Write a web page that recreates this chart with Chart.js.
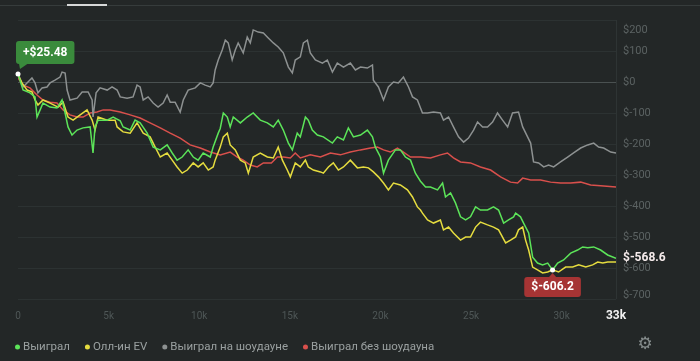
<!DOCTYPE html>
<html>
<head>
<meta charset="utf-8">
<script src="https://cdn.jsdelivr.net/npm/chart.js@4"></script>
<style>
  html, body { margin: 0; padding: 0; background: #232727; }
  canvas { display: block; }
</style>
</head>
<body>
<canvas id="graph" width="700" height="361"></canvas>
<script>
/**
 * Data
 */
const seriesNames = ['Выиграл', 'Олл-ин EV', 'Выиграл на шоудауне', 'Выиграл без шоудауна']

const greenHands  = [0, 280, 660, 940, 1050, 1220, 1380, 1770, 2150, 2430, 2600, 2760, 2980, 3260, 3590, 3980, 4140, 4250, 4420, 4920, 5250, 5640, 5800, 6190, 6460, 6740, 7130, 7460, 7850, 8230, 8510, 8780, 9060, 9390, 9670, 9940, 10220, 10610, 10770, 11050, 11160, 11330, 11550, 11710, 11880, 12270, 12650, 12980, 13370, 13760, 14090, 14360, 14640, 14920, 15140, 15410, 15580, 15860, 16020, 16240, 16520, 16850, 17350, 17620, 17960, 18230, 18510, 18900, 19280, 19560, 19720, 20000, 20170, 20440, 20830, 21100, 21380, 21660, 21930, 22210, 22490, 22760, 23150, 23430, 23590, 23870, 24140, 24420, 24700, 24970, 25250, 25520, 25910, 26240, 26520, 26800, 27070, 27350, 27460, 27730, 27900, 28180, 28400, 28670, 28950, 29230, 29500, 29780, 30110, 30500, 30880, 31160, 31440, 31770, 32150, 32540, 33000]
const greenValues = [25.48, -26, -35, -48, -113, -90, -68, -81, -84, -58, -100, -145, -171, -155, -148, -145, -229, -145, -123, -123, -113, -125, -145, -155, -123, -132, -165, -210, -219, -203, -229, -252, -242, -219, -242, -252, -229, -242, -210, -165, -150, -100, -113, -145, -113, -132, -113, -100, -123, -132, -145, -123, -155, -197, -219, -165, -177, -113, -123, -155, -171, -177, -197, -177, -187, -148, -177, -171, -155, -177, -210, -242, -294, -252, -219, -219, -242, -252, -294, -320, -339, -339, -348, -326, -371, -358, -390, -435, -445, -435, -403, -413, -413, -403, -413, -455, -445, -435, -423, -435, -455, -487, -565, -584, -590, -584, -606.2, -584, -574, -552, -542, -532, -535, -532, -542, -558, -568.6]

const yellowHands  = [0, 220, 500, 770, 940, 1100, 1380, 1770, 2210, 2490, 2760, 3040, 3430, 3810, 4090, 4250, 4420, 4920, 5360, 5470, 5800, 6190, 6570, 6910, 7290, 7570, 7850, 8230, 8510, 8780, 9060, 9340, 9670, 9940, 10220, 10500, 10770, 10880, 11160, 11330, 11550, 11710, 11990, 12270, 12540, 12710, 12980, 13370, 13760, 14090, 14360, 14590, 14860, 15030, 15300, 15580, 15860, 16020, 16300, 16690, 16850, 17130, 17400, 17680, 17960, 18340, 18730, 19060, 19340, 19610, 19890, 20170, 20440, 20720, 21100, 21490, 21770, 22040, 22210, 22320, 22600, 22930, 23310, 23480, 23760, 24030, 24420, 24700, 24970, 25250, 25520, 25910, 26240, 26520, 26910, 27180, 27460, 27620, 27850, 28010, 28180, 28400, 28670, 28950, 29230, 29500, 29830, 30220, 30610, 30940, 31330, 31710, 31990, 32270, 32540, 33000]
const yellowValues = [23, -3, -26, -32, -58, -74, -58, -68, -81, -65, -113, -123, -106, -90, -123, -155, -113, -123, -123, -145, -161, -165, -132, -165, -177, -210, -242, -229, -252, -274, -294, -284, -261, -274, -261, -284, -274, -252, -210, -177, -165, -203, -219, -252, -261, -294, -242, -229, -242, -245, -210, -252, -284, -306, -261, -274, -252, -274, -284, -290, -294, -274, -261, -284, -274, -252, -277, -274, -277, -290, -306, -326, -348, -326, -332, -348, -371, -403, -413, -423, -445, -455, -445, -477, -468, -487, -510, -500, -500, -468, -452, -461, -468, -477, -519, -510, -500, -477, -468, -510, -542, -597, -606, -616, -613, -606, -613, -597, -597, -590, -597, -590, -581, -584, -581, -581]

const grayHands  = [0, 280, 550, 770, 940, 1100, 1330, 1600, 1770, 2040, 2320, 2430, 2600, 2710, 2870, 3260, 3540, 3870, 4090, 4140, 4310, 4530, 4920, 5190, 5470, 5640, 6020, 6350, 6570, 6740, 6910, 7180, 7460, 7730, 8010, 8230, 8400, 8670, 8950, 9120, 9390, 9780, 10060, 10330, 10610, 10770, 10880, 11050, 11270, 11440, 11600, 11820, 11990, 12150, 12430, 12650, 12820, 12980, 13260, 13540, 13810, 14090, 14360, 14640, 14920, 15140, 15300, 15580, 15750, 15970, 16130, 16410, 16800, 17070, 17350, 17620, 17960, 18340, 18620, 18900, 19280, 19560, 19610, 19890, 20170, 20440, 20720, 20990, 21270, 21550, 21770, 22040, 22320, 22600, 22930, 23310, 23480, 23760, 24030, 24310, 24590, 24860, 25140, 25360, 25640, 25910, 26190, 26460, 26740, 27020, 27290, 27620, 27850, 28120, 28290, 28450, 28730, 29010, 29280, 29560, 29940, 30330, 30660, 31050, 31440, 31770, 32040, 32320, 32710, 33000]
const grayValues = [29, -16, 0, 13, -3, -35, -19, -16, -3, 6, 16, 32, 29, -26, -58, -52, -32, -32, -58, -113, -35, -19, -26, -16, -26, -48, -52, -48, -10, -16, -58, -48, -68, -81, -68, -42, -65, -65, -97, -58, -26, -19, -3, -10, -16, -3, 39, 71, 103, 135, 126, 71, 103, 126, 94, 145, 126, 168, 161, 158, 142, 126, 113, 94, 48, 29, 71, 81, 126, 135, 94, 71, 61, 71, 32, 61, 48, 61, 39, 48, 45, 55, 6, -16, -58, -16, 0, -3, 16, -16, -48, -58, -100, -100, -97, -100, -123, -113, -145, -177, -194, -181, -155, -129, -145, -145, -129, -100, -123, -145, -100, -97, -145, -177, -197, -258, -261, -274, -268, -274, -258, -242, -229, -213, -203, -197, -210, -213, -226, -229]

const redHands  = [0, 280, 660, 1050, 1380, 1770, 2150, 2490, 2870, 3260, 3590, 3980, 4360, 4700, 5080, 5640, 6190, 6740, 7290, 7850, 8400, 8950, 9500, 10060, 10610, 11160, 11710, 12100, 12430, 12820, 13200, 13540, 13980, 14310, 14640, 15030, 15300, 15580, 16130, 16690, 17240, 17790, 18340, 18900, 19450, 19830, 20170, 20550, 20940, 21270, 21660, 22210, 22760, 23310, 23700, 24030, 24420, 24970, 25520, 26080, 26630, 27180, 27570, 27850, 28290, 28840, 29390, 29940, 30500, 31050, 31600, 32150, 33000]
const redValues = [13, -10, -19, -42, -58, -65, -68, -90, -106, -113, -113, -100, -97, -90, -90, -97, -106, -116, -132, -148, -165, -181, -203, -213, -226, -235, -226, -242, -252, -268, -274, -261, -261, -242, -242, -245, -229, -245, -235, -242, -229, -235, -226, -219, -213, -210, -219, -226, -213, -226, -242, -242, -245, -235, -229, -245, -258, -261, -274, -284, -306, -323, -326, -310, -316, -316, -323, -326, -326, -323, -332, -335, -339]

const xTicks = [0, 5000, 10000, 15000, 20000, 25000, 30000, 33000]
const yTicks = [200, 100, 0, -100, -200, -300, -400, -500, -600, -700]

const colors = ['#5ce459', '#e5dc3f', '#8d9191', '#d9504c']

/**
 * Helpers
 */
function toPoints (hands, values) {
  return hands.map((h, i) => ({x: h, y: values[i]}))
}

function roundRect (ctx, x, y, w, h, r) {
  ctx.beginPath()
  ctx.moveTo(x + r, y)
  ctx.lineTo(x + w - r, y)
  ctx.quadraticCurveTo(x + w, y, x + w, y + r)
  ctx.lineTo(x + w, y + h - r)
  ctx.quadraticCurveTo(x + w, y + h, x + w - r, y + h)
  ctx.lineTo(x + r, y + h)
  ctx.quadraticCurveTo(x, y + h, x, y + h - r)
  ctx.lineTo(x, y + r)
  ctx.quadraticCurveTo(x, y, x + r, y)
  ctx.closePath()
}

/**
 * Decorations: tick labels, legend, markers
 */
const decor = {
  id: 'decor',
  beforeDraw (chart) {
    let ctx = chart.ctx
    ctx.save()
    ctx.fillStyle = '#232727'
    ctx.fillRect(0, 0, chart.width, chart.height)
    //top tab bar
    ctx.fillStyle = '#363c3c'
    ctx.fillRect(0, 5, chart.width, 1)
    ctx.fillStyle = '#d6d8d8'
    ctx.fillRect(67, 4, 40, 2)
    ctx.restore()
  },
  afterDraw (chart) {
    let ctx  = chart.ctx,
        area = chart.chartArea,
        xs   = chart.scales.x,
        ys   = chart.scales.y
    ctx.save()

    //right border
    ctx.strokeStyle = '#2e3434'
    ctx.lineWidth = 1
    ctx.beginPath()
    ctx.moveTo(Math.round(area.right) + 0.5, area.top)
    ctx.lineTo(Math.round(area.right) + 0.5, area.bottom)
    ctx.stroke()

    //y labels
    ctx.font = '11px Roboto'
    ctx.fillStyle = '#5b6262'
    ctx.textAlign = 'left'
    ctx.textBaseline = 'middle'
    yTicks.forEach(v => {
      let y = Math.min(Math.max(ys.getPixelForValue(v), area.top + 10), area.bottom - 4)
      ctx.fillText('$' + v, area.right + 7, y)
    })

    //x labels
    ctx.textAlign = 'center'
    xTicks.forEach((v, i) => {
      let last = i === xTicks.length - 1
      ctx.font = last ? 'bold 12px Roboto' : '10px Roboto'
      ctx.fillStyle = last ? '#f2f2f2' : '#4f5757'
      ctx.fillText(v === 0 ? '0' : (v / 1000) + 'k', xs.getPixelForValue(v), area.bottom + 17)
    })

    //legend
    let lx = 15
    ctx.font = '11.5px Roboto'
    ctx.textAlign = 'left'
    seriesNames.forEach((name, i) => {
      ctx.fillStyle = colors[i]
      ctx.beginPath()
      ctx.arc(lx + 2.5, 347, 2.5, 0, Math.PI * 2)
      ctx.fill()
      ctx.fillStyle = '#9aa0a0'
      ctx.fillText(name, lx + 8, 347)
      lx += 8 + ctx.measureText(name).width + 15
    })

    //settings gear
    ctx.font = '17px "DejaVu Sans"'
    ctx.fillStyle = '#858c8c'
    ctx.textAlign = 'center'
    ctx.fillText('\u2699', 645, 345)

    //max / min / last of the main series
    let maxI = greenValues.indexOf(Math.max(...greenValues)),
        minI = greenValues.indexOf(Math.min(...greenValues)),
        lastI = greenValues.length - 1

    let px = xs.getPixelForValue(greenHands[maxI]),
        py = ys.getPixelForValue(greenValues[maxI])
    let txt = '+$' + greenValues[maxI].toFixed(2)
    ctx.font = 'bold 12px Roboto'
    let w = ctx.measureText(txt).width + 14
    ctx.fillStyle = '#3a8b3c'
    roundRect(ctx, px - 2, py - 33, w, 23, 3)
    ctx.fill()
    ctx.beginPath()
    ctx.moveTo(px + 1, py - 10.5)
    ctx.lineTo(px + 10, py - 10.5)
    ctx.lineTo(px + 2, py - 5)
    ctx.closePath()
    ctx.fill()
    ctx.fillStyle = '#ffffff'
    ctx.textAlign = 'left'
    ctx.fillText(txt, px + 5, py - 21)
    ctx.beginPath()
    ctx.arc(px, py, 2.5, 0, Math.PI * 2)
    ctx.fill()

    px = xs.getPixelForValue(greenHands[minI])
    py = ys.getPixelForValue(greenValues[minI])
    txt = '$' + greenValues[minI].toFixed(1)
    w = ctx.measureText(txt).width + 14
    ctx.fillStyle = '#a63434'
    roundRect(ctx, px - w / 2, py + 7, w, 20, 3)
    ctx.fill()
    ctx.beginPath()
    ctx.moveTo(px - 4, py + 7.5)
    ctx.lineTo(px + 4, py + 7.5)
    ctx.lineTo(px, py + 3)
    ctx.closePath()
    ctx.fill()
    ctx.fillStyle = '#ffffff'
    ctx.textAlign = 'center'
    ctx.fillText(txt, px, py + 17.5)
    ctx.beginPath()
    ctx.arc(px, py, 2.5, 0, Math.PI * 2)
    ctx.fill()

    //current value on the price axis
    py = ys.getPixelForValue(greenValues[lastI])
    ctx.font = 'bold 12px Roboto'
    ctx.textAlign = 'left'
    ctx.fillStyle = '#f4eaea'
    ctx.fillText('$' + greenValues[lastI].toFixed(1), area.right + 7, py)

    ctx.restore()
  }
}

let graph = new Chart(document.getElementById('graph'), {
  type   : 'line',
  data   : {
    datasets: [
      {label: seriesNames[0], data: toPoints(greenHands, greenValues), borderColor: colors[0]},
      {label: seriesNames[1], data: toPoints(yellowHands, yellowValues), borderColor: colors[1]},
      {label: seriesNames[2], data: toPoints(grayHands, grayValues), borderColor: colors[2]},
      {label: seriesNames[3], data: toPoints(redHands, redValues), borderColor: colors[3]}
    ]
  },
  options: {
    responsive      : false,
    animation       : false,
    devicePixelRatio: 1,
    layout          : {padding: {left: 18, right: 84, top: 20, bottom: 62}},
    elements        : {
      line : {borderWidth: 1.5, tension: 0},
      point: {radius: 0}
    },
    plugins         : {
      legend : {display: false},
      tooltip: {enabled: false}
    },
    scales          : {
      x: {
        type   : 'linear',
        display: false,
        min    : 0,
        max    : 33000
      },
      y: {
        min   : -700,
        max   : 200,
        grid  : {
          drawTicks: false,
          color    : ctx => ctx.tick && ctx.tick.value === 0 ? '#4a5151' : '#2c3232'
        },
        border: {display: false},
        ticks : {display: false, stepSize: 100}
      }
    }
  },
  plugins: [decor]
})
</script>
</body>
</html>
